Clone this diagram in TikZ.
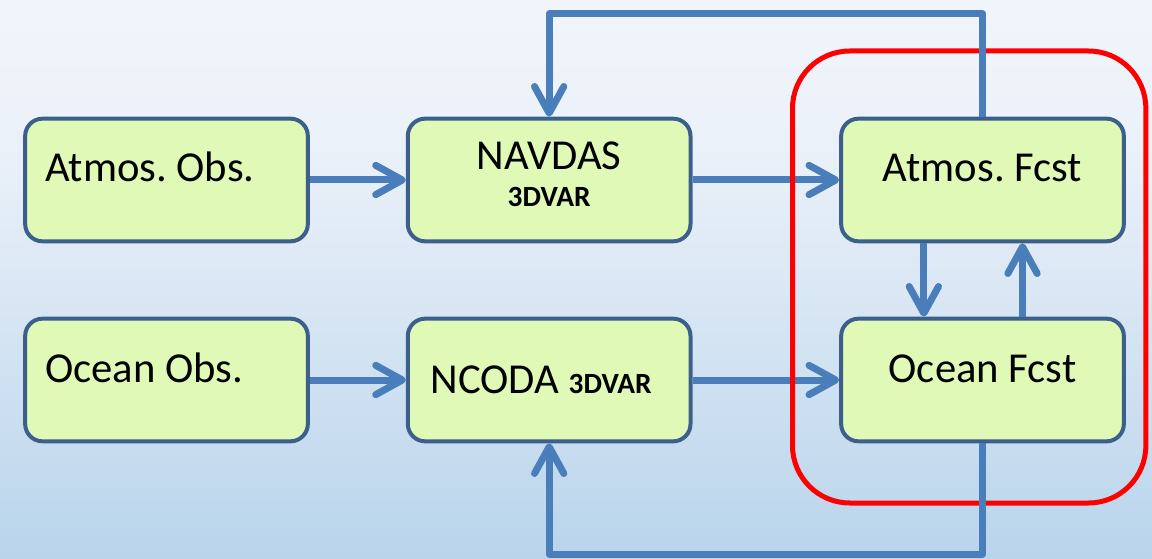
\documentclass[tikz,border=0pt]{standalone}
\usepackage{fontspec}
\setmainfont{Carlito}
\usetikzlibrary{arrows.meta, positioning, fit}

\definecolor{boxfill}{HTML}{E1F9B6}
\definecolor{boxline}{HTML}{3C5F8C}
\definecolor{flowblue}{HTML}{4A7EBB}
\definecolor{bgtop}{HTML}{F5F8FC}
\definecolor{bgupper}{HTML}{EBF1F9}
\definecolor{bgmid}{HTML}{D6E5F3}
\definecolor{bgbot}{HTML}{B3D1EA}
\pgfdeclareverticalshading{bgshade}{100bp}{color(0bp)=(bgbot); color(21bp)=(bgbot); color(46bp)=(bgmid); color(62bp)=(bgupper); color(82bp)=(bgtop); color(100bp)=(bgtop)}
\frenchspacing

\begin{document}
\begin{tikzpicture}[x=0.75pt, y=-0.75pt, >={Straight Barb[length=20pt,width=22pt,round]},
  block/.style={draw=boxline, line width=3pt, fill=boxfill, rounded corners=13pt, minimum width=212pt, minimum height=92pt, font=\fontsize{32}{36}\selectfont},
  flow/.style={->, draw=flowblue, line width=5.25pt, line join=round},
  groupbox/.style={draw=red, line width=3.75pt, rounded corners=43pt}]
  \useasboundingbox (0,0) rectangle (1152,559);
  % Hintergrund mit Verlauf
  \shade[shading=bgshade] (0,0) rectangle (1152,559);

  % Beobachtungen links
  \node[block, text width=182pt, inner xsep=15pt, align=flush left, text height=22pt, text depth=19pt] (atmobs) at (166.5,180) {Atmos. Obs.};
  \node[block, text width=182pt, inner xsep=15pt, align=flush left, text height=22pt, text depth=19pt, below=55pt of atmobs] (ocnobs) {Ocean Obs.};

  % Assimilation in der Mitte
  \node[block, align=center, text height=42pt, text depth=1.5pt, right=72pt of atmobs] (navdas) {NAVDAS\\[-8pt]{\fontsize{22}{24}\selectfont\bfseries 3DVAR}};
  \node[block, text width=178pt, inner xsep=17pt, align=flush left, text height=22pt, text depth=2.5pt, right=72pt of ocnobs] (ncoda) {NCODA {\fontsize{22}{24}\selectfont\bfseries 3DVAR}};

  % Vorhersagen rechts
  \node[block, text height=22pt, text depth=19pt, right=110pt of navdas] (atmfc) {Atmos. Fcst};
  \node[block, text height=22pt, text depth=19pt, right=110pt of ncoda] (ocnfc) {Ocean Fcst};

  % Verbindungen
  \draw[flow] (atmobs) -- (navdas);
  \draw[flow] (ocnobs) -- (ncoda);
  \draw[flow] (navdas) -- (atmfc);
  \draw[flow] (ncoda) -- (ocnfc);
  \draw[flow] ([xshift=-44pt]atmfc.south) -- ([xshift=-44pt]ocnfc.north);
  \draw[flow] ([xshift=30pt]ocnfc.north) -- ([xshift=30pt]atmfc.south);

  % Gekoppeltes Modell
  \node[groupbox, fit=(atmfc) (ocnfc), inner xsep=25pt, inner ysep=47pt, xshift=-10pt, yshift=2.25pt] (coupled) {};

  % Rueckkopplung
  \draw[flow] (atmfc.north) -- ++(0,-103) -| (navdas.north);
  \draw[flow] (ocnfc.south) -- ++(0,111) -| (ncoda.south);
\end{tikzpicture}
\end{document}
